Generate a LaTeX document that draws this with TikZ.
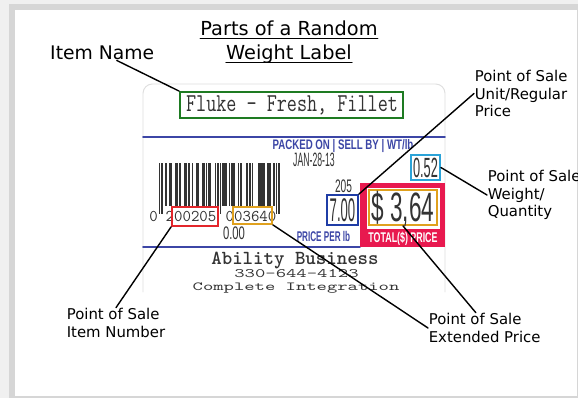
\documentclass[tikz,border=0pt]{standalone}
\usepackage{fontspec}
\usepackage{tikz}

\newfontfamily\calloutfont{DejaVu Sans}
\newfontfamily\tagsans{Liberation Sans}

\definecolor{tagGreen}{HTML}{1E7B22}
\definecolor{tagRed}{HTML}{E3262B}
\definecolor{tagOrange}{HTML}{E0A11E}
\definecolor{tagBlue}{HTML}{1F3DA6}
\definecolor{tagCyan}{HTML}{2BA3D8}
\definecolor{tagCrimson}{HTML}{E8194F}
\definecolor{tagInk}{HTML}{333333}
\definecolor{labelBlue}{HTML}{3C46A6}

\begin{document}
\begin{tikzpicture}[%
        x = 0.03cm,
        y = -0.03cm,
        line cap = round,
        leader/.style = {
            draw = black,
            line width = 1.2pt
        },
        callout/.style = {
            font = \calloutfont\fontsize{12.7}{15}\selectfont,
            align = left,
            anchor = west,
            inner sep = 0.5pt
        },
        tagbox/.style = {
            draw,
            line width = 1.6pt,
            inner sep = 0
        },
        boxwh/.style 2 args = {
            minimum width = #1*0.03cm,
            minimum height = #2*0.03cm
        },
        tagtext/.style = {
            text = tagInk,
            anchor = base,
            inner sep = 0
        }
    ]

        \useasboundingbox (0,0) rectangle (578,398);

        % Grey frame round the page.
        \fill[gray!12] (0,0) rectangle (578,398);
        \fill[gray!32] (9,4) rectangle (578,398);
        \fill[white] (15,10) rectangle (577,396);

        % Title and item name.
        \node[anchor = base, inner sep = 0, font = \calloutfont\fontsize{16.5}{18}\selectfont]
            at (289,36) (title1) {Parts of a Random};
        \node[anchor = base, inner sep = 0, font = \calloutfont\fontsize{16.5}{18}\selectfont]
            at (289,60) (title2) {Weight Label};
        \draw[line width = 1pt] ([yshift = -2.2pt]title1.base west) -- ([yshift = -2.2pt]title1.base east);
        \draw[line width = 1pt] ([yshift = -2.2pt]title2.base west) -- ([yshift = -2.2pt]title2.base east);
        \node[anchor = base west, inner sep = 0, font = \calloutfont\fontsize{16}{18}\selectfont]
            at (50,60) (itemname) {Item Name};

        % Outline of the label and its blue rules.
        \draw[gray!25, line width = 0.8pt, rounded corners = 8pt]
            (143,292) |- (445,84) -- (445,292);
        \draw[labelBlue, line width = 1.3pt] (143,137) -- (445,137);
        \draw[labelBlue, line width = 1.3pt] (143,247) -- (360,247);

        % Barcode, UPC 2 00205 00364 0.
        \foreach \b [count = \i] in {1,0,1,
                0,0,1,0,0,1,1, 0,0,0,1,1,0,1, 0,0,0,1,1,0,1,
                0,0,1,0,0,1,1, 0,0,0,1,1,0,1, 0,1,1,0,0,0,1,
                0,1,0,1,0,
                1,1,1,0,0,1,0, 1,1,1,0,0,1,0, 1,0,0,0,0,1,0,
                1,0,1,0,0,0,0, 1,0,1,1,1,0,0, 1,1,1,0,0,1,0,
                1,0,1} {
            \ifnum\b=1
                \pgfmathsetmacro\barend{(\i<4 || \i>92 || (\i>45 && \i<51)) ? 214 : 206}
                \fill[tagInk] ({159+(\i-1)*1.27-0.2},163) rectangle ({159+\i*1.27+0.2},\barend);
            \fi
        }

        % Printed texts on the label.
        \node[tagtext, text = labelBlue] at (343,150) (header)
            {\scalebox{0.7}[1]{\tagsans\bfseries\fontsize{11.8}{12}\selectfont PACKED ON | SELL BY | WT/lb}};
        \node[tagtext] at (314,167) (packdate)
            {\scalebox{0.45}[1]{\tagsans\fontsize{16.5}{17}\selectfont JAN-28-13}};
        \node[tagtext] at (343.5,193) (plu)
            {\scalebox{0.56}[1]{\tagsans\fontsize{15.5}{16}\selectfont 205}};
        \node[tagtext, text = labelBlue] at (323.5,242) (perlbtxt)
            {\scalebox{0.58}[1]{\tagsans\bfseries\fontsize{12}{12}\selectfont PRICE PER lb}};
        \node[tagtext] at (234,240) (tare)
            {\scalebox{0.62}[1]{\tagsans\fontsize{15.5}{16}\selectfont 0.00}};
        \node[tagtext] at (153.5,222) (digit0)
            {\ttfamily\fontsize{14}{14}\selectfont 0};
        \node[tagtext] at (191,222) (digitsl)
            {\ttfamily\fontsize{14}{14}\selectfont 200205};
        \node[tagtext] at (251,222) (digitsr)
            {\ttfamily\fontsize{14}{14}\selectfont 003640};
        \node[tagtext] at (295,265) (bizname)
            {\ttfamily\bfseries\fontsize{17}{17}\selectfont Ability Business};
        \node[tagtext] at (296.5,278) (bizphone)
            {\scalebox{1.56}[1]{\ttfamily\fontsize{11}{11}\selectfont 330-644-4123}};
        \node[tagtext] at (296,291) (bizline)
            {\scalebox{1.6}[1]{\ttfamily\fontsize{10.5}{10.5}\selectfont Complete Integration}};

        % Red total price frame.
        \fill[tagCrimson] (360,183) rectangle (445,247);
        \fill[white] (367,188) rectangle (440,229);
        \node[tagtext, text = white] at (403,243) (totaltxt)
            {\scalebox{0.63}[1]{\tagsans\bfseries\fontsize{12}{12}\selectfont TOTAL(\$) PRICE}};

        % Coloured boxes round the parts.
        \node[tagbox, draw = tagGreen, boxwh = {223}{26}] at (291.5,105) (fluke) {};
        \node[tagtext] at (292,112) (flukename)
            {\scalebox{0.76}[1]{\ttfamily\fontsize{22}{22}\selectfont Fluke - Fresh, Fillet}};
        \node[tagbox, draw = tagRed, boxwh = {46}{19}] at (195,216.5) (itemno) {};
        \node[tagbox, draw = tagOrange, boxwh = {39}{17}] at (252.5,215.5) (wbox) {};
        \node[tagbox, draw = tagBlue, boxwh = {31}{30}] at (342.5,210) (unitp) {};
        \node[tagtext] at (342.5,222) (unitval)
            {\scalebox{0.4}[1]{\tagsans\fontsize{28}{28}\selectfont 7.00}};
        \node[tagbox, draw = tagCyan, boxwh = {29}{25}] at (425.5,167.5) (wt) {};
        \node[tagtext] at (425.5,178) (wtval)
            {\scalebox{0.46}[1]{\tagsans\fontsize{23.7}{24}\selectfont 0.52}};
        \node[tagbox, draw = tagOrange, boxwh = {68}{35}] at (403,207.5) (total) {};
        \node[tagtext] at (403,222) (totalval)
            {\scalebox{0.55}[1]{\tagsans\fontsize{35}{35}\selectfont \$ 3,64}};

        % Callouts.
        \node[callout] at (474,93.5) (unitlbl) {Point of Sale\\Unit/Regular\\Price};
        \node[callout] at (487,195) (wtlbl) {Point of Sale\\Weight/\\Quantity};
        \node[callout] at (66,323) (inumlbl) {Point of Sale\\Item Number};
        \node[callout] at (428,328) (extlbl) {Point of Sale\\Extended Price};

        % Leader lines.
        \draw[leader] (itemname) -- (fluke.north west);
        \draw[leader] (unitlbl.west) -- (unitp.north east);
        \draw[leader] (wt.east) -- (wtlbl.west);
        \draw[leader] (itemno.south west) -- (inumlbl.north);
        \draw[leader] (wbox.south east) -- (extlbl.west);
        \draw[leader] (total.south) -- (extlbl.120);
    \end{tikzpicture}
\end{document}
